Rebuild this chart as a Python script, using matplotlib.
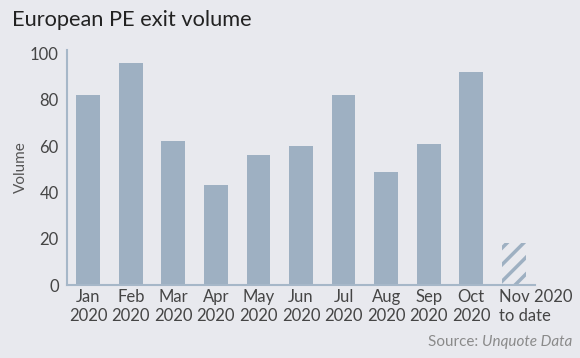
import matplotlib
import matplotlib.pyplot as plt
import matplotlib.transforms as mtransforms

matplotlib.rcParams.update({
    'font.family': ['Lato', 'DejaVu Sans'],
    'hatch.linewidth': 2.5,
})

months = ['Jan\n2020', 'Feb\n2020', 'Mar\n2020', 'Apr\n2020', 'May\n2020', 'Jun\n2020',
          'Jul\n2020', 'Aug\n2020', 'Sep\n2020', 'Oct\n2020']
volumes = [82, 96, 62, 43, 56, 60, 82, 49, 61, 92]
partial_label = 'Nov 2020\nto date'
partial_volume = 18

bg = '#e8e9ee'
bar_color = '#9eb0c2'
spine_color = '#a6b7c8'
text_color = '#454545'

fig = plt.figure(figsize=(5.8, 3.58), dpi=100, facecolor=bg)
ax = fig.add_axes([67/580, (358-285)/358, (535-67)/580, (285-50)/358])
ax.set_facecolor(bg)

x = list(range(len(months)))
ax.bar(x, volumes, width=0.56, color=bar_color, linewidth=0)
ax.bar([len(months)], [partial_volume], width=0.56, facecolor=bg,
       edgecolor=bar_color, hatch='//', linewidth=0)

ax.set_xlim(-0.5, len(months) + 0.5)
ax.set_ylim(0, 101.5)
ax.set_yticks([0, 20, 40, 60, 80, 100])
ax.set_xticks(list(range(len(months) + 1)))
ax.set_xticklabels(months + [partial_label], linespacing=1.25)
ax.tick_params(length=0, labelsize=12, colors=text_color, pad=3)
ax.tick_params(axis='y', pad=6)
# last label is left aligned, starting a bit left of the bar
lab = ax.get_xticklabels()[-1]
lab.set_horizontalalignment('left')
lab.set_transform(lab.get_transform() +
                  mtransforms.ScaledTranslation(-0.15, 0, fig.dpi_scale_trans))

for s in ['top', 'right']:
    ax.spines[s].set_visible(False)
for s in ['left', 'bottom']:
    ax.spines[s].set_color(spine_color)
    ax.spines[s].set_linewidth(1.5)

ax.set_ylabel('Volume', fontsize=11, color='#555555')
ax.yaxis.set_label_coords(-0.083, 0.5)

fig.text(12/580, 1 - 20/358, 'European PE exit volume', fontsize=15.7,
         color='#222222', va='center', ha='left')
src = fig.text(428/580, 1 - 342/358, 'Source: ', fontsize=11, color='#8a8a8a',
               ha='left', va='center')
fig.canvas.draw()
bb = src.get_window_extent()
fig.text(bb.x1 / 580, 1 - 342/358, 'Unquote Data', fontsize=11, color='#8a8a8a',
         style='italic', ha='left', va='center')

plt.savefig('out.png', dpi=100, facecolor=bg)
